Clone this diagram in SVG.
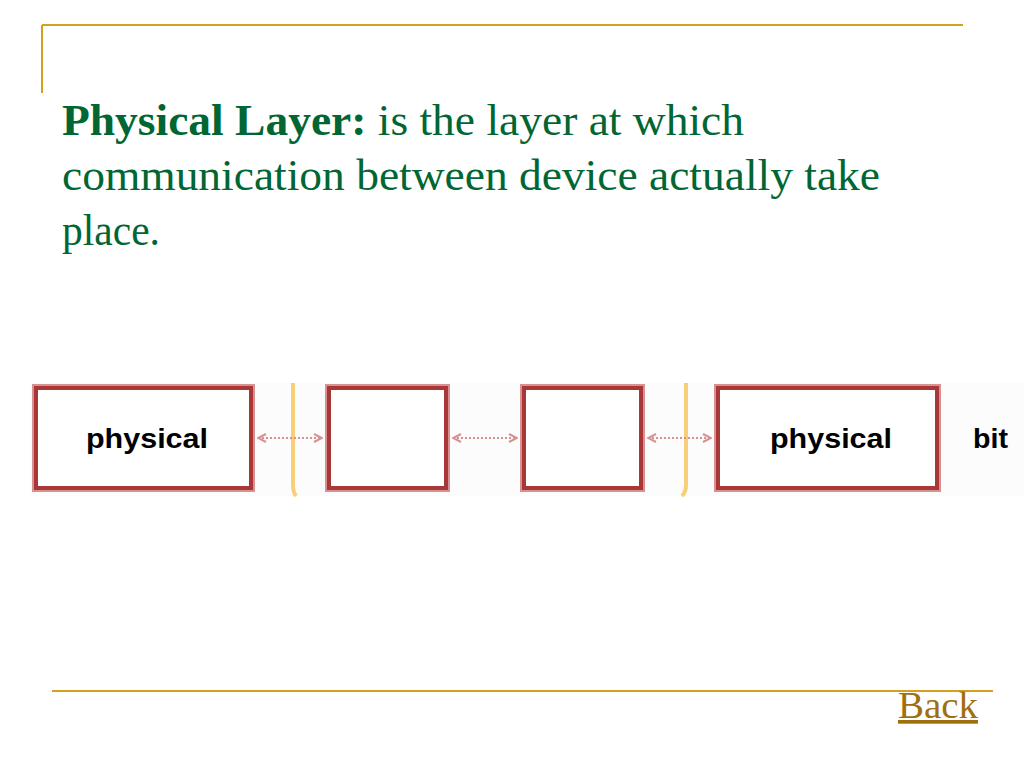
<svg xmlns="http://www.w3.org/2000/svg" width="1024" height="768" viewBox="0 0 1024 768">
<defs>
<style>
.rule{stroke:#d4a020;stroke-width:2;fill:none}
.title{font-family:"Liberation Serif",serif;font-size:45px;fill:#006633}
.box{fill:#ffffff;stroke:#a83838;stroke-width:4}
.boxo{fill:none;stroke:#d89090;stroke-width:2}
.lbl{font-family:"Liberation Sans",Arial,sans-serif;font-weight:bold;font-size:28px;fill:#000}
.conn{stroke:#d89090;stroke-width:2;stroke-dasharray:2 2;fill:none}
.medium{stroke:#f8cf78;stroke-width:4;fill:none}
</style>
<marker id="ah" viewBox="0 0 10 10" refX="9" refY="5" markerWidth="10" markerHeight="10" markerUnits="userSpaceOnUse" orient="auto-start-reverse">
<path d="M1,1 L9,5 L1,9" fill="none" stroke="#d89090" stroke-width="2"/>
</marker>
</defs>
<rect width="1024" height="768" fill="#ffffff"/>
<line class="rule" x1="42" y1="25" x2="963" y2="25"/>
<line class="rule" x1="42" y1="25" x2="42" y2="93"/>
<line class="rule" x1="52" y1="691" x2="993" y2="691"/>
<text class="title" x="62" y="135" textLength="682" lengthAdjust="spacingAndGlyphs"><tspan font-weight="bold">Physical Layer:</tspan> is the layer at which</text>
<text class="title" x="62" y="190" textLength="818" lengthAdjust="spacingAndGlyphs">communication between device actually take</text>
<text class="title" x="62" y="245" textLength="98" lengthAdjust="spacingAndGlyphs">place.</text>
<rect x="30" y="383" width="994" height="113" fill="#fcfcfc"/>
<path class="medium" d="M293,383 L293,485 Q293,492 296,496"/>
<path class="medium" d="M686,383 L686,485 Q686,492 682,496"/>
<g id="connectors">
<line class="conn" x1="258" y1="438" x2="322" y2="438" marker-start="url(#ah)" marker-end="url(#ah)"/>
<line class="conn" x1="453" y1="438" x2="517" y2="438" marker-start="url(#ah)" marker-end="url(#ah)"/>
<line class="conn" x1="648" y1="438" x2="711" y2="438" marker-start="url(#ah)" marker-end="url(#ah)"/>
</g>
<g id="node1">
<rect class="boxo" x="33" y="385" width="221" height="106"/>
<rect class="box" x="36" y="388" width="215" height="100"/>
<text class="lbl" x="86" y="448" textLength="122" lengthAdjust="spacingAndGlyphs">physical</text>
</g>
<g id="node2">
<rect class="boxo" x="326" y="385" width="123" height="106"/>
<rect class="box" x="329" y="388" width="117" height="100"/>
</g>
<g id="node3">
<rect class="boxo" x="521" y="385" width="123" height="106"/>
<rect class="box" x="524" y="388" width="117" height="100"/>
</g>
<g id="node4">
<rect class="boxo" x="715" y="385" width="225" height="106"/>
<rect class="box" x="718" y="388" width="219" height="100"/>
<text class="lbl" x="770" y="448" textLength="122" lengthAdjust="spacingAndGlyphs">physical</text>
</g>
<text class="lbl" x="973" y="448" textLength="35" lengthAdjust="spacingAndGlyphs">bit</text>
<text x="898" y="718" font-family="Liberation Serif,serif" font-size="37" fill="#a07010" text-decoration="underline" textLength="80" lengthAdjust="spacingAndGlyphs">Back</text>
</svg>
